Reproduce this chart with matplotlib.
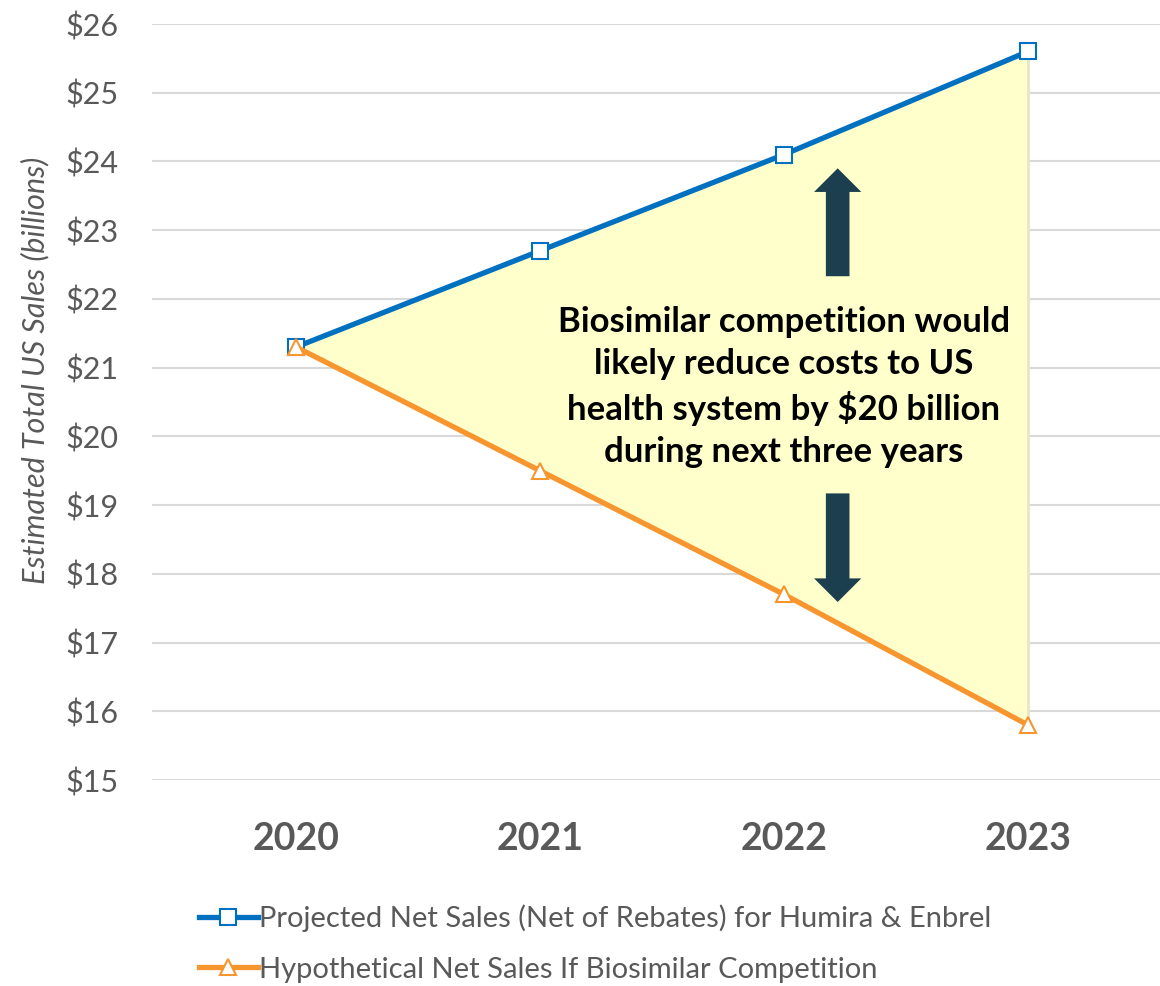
import matplotlib.pyplot as plt
import numpy as np

years = ['2020', '2021', '2022', '2023']
projected = [21.3, 22.7, 24.1, 25.6]
hypothetical = [21.3, 19.5, 17.7, 15.8]
y_ticks = [15, 16, 17, 18, 19, 20, 21, 22, 23, 24, 25, 26]

blue = '#0070C0'
orange = '#F7962F'
grey = '#595959'
arrow_col = '#1B3F4E'

plt.rcParams['font.family'] = ['Lato', 'DejaVu Sans']

fig = plt.figure(figsize=(11.6, 9.86), dpi=100)
ax = fig.add_axes([152/1160, 1 - 780/986, 1008/1160, 756/986])

x = np.arange(len(years))
ax.fill_between(x, hypothetical, projected, color='#FFFFCC', zorder=1)
ax.plot([x[-1], x[-1]], [hypothetical[-1], projected[-1]], color='#E6E6C8', lw=2, zorder=1)

ax.plot(x, projected, color=blue, lw=3.8, marker='s', ms=12, mfc='white', mec=blue, mew=1.5,
        label='Projected Net Sales (Net of Rebates) for Humira & Enbrel', zorder=3)
ax.plot(x, hypothetical, color=orange, lw=3.8, marker='^', ms=12, mfc='white', mec=orange, mew=1.5,
        label='Hypothetical Net Sales If Biosimilar Competition', zorder=4)

# arrows
ax.annotate('', xy=(2.22, 23.9), xytext=(2.22, 22.33),
            arrowprops=dict(facecolor=arrow_col, edgecolor='none', width=17, headwidth=34, headlength=17, shrink=0))
ax.annotate('', xy=(2.22, 17.59), xytext=(2.22, 19.17),
            arrowprops=dict(facecolor=arrow_col, edgecolor='none', width=17, headwidth=34, headlength=17, shrink=0))

ax.text(2.0, 20.72, 'Biosimilar competition would\nlikely reduce costs to US\nhealth system by $20 billion\nduring next three years',
        ha='center', va='center', fontsize=25, fontweight='bold', color='black', linespacing=1.38, zorder=5)

ax.set_xlim(-144/244, 864/244)
ax.set_ylim(15, 26)
ax.set_yticks(y_ticks)
ax.set_yticklabels(['$%d' % v for v in y_ticks])
ax.set_xticks(x)
ax.set_xticklabels(years, fontweight='bold')
ax.tick_params(axis='y', length=0, pad=24, labelsize=22, labelcolor=grey)
ax.tick_params(axis='x', length=0, pad=30, labelsize=27, labelcolor=grey)
ax.grid(axis='y', color='#D9D9D9', lw=1.5, zorder=0)
ax.set_axisbelow(True)
for s in ax.spines.values():
    s.set_visible(False)

fig.text(35/1160, 1 - 370/986, 'Estimated Total US Sales (billions)', rotation=90, style='italic',
         fontsize=22, color=grey, ha='center', va='center')

leg = fig.legend(loc='upper left', bbox_to_anchor=(173/1160, 1 - 878/986), frameon=False,
                 fontsize=21, handlelength=2.0, handletextpad=0.05, labelspacing=0.85)
for t in leg.get_texts():
    t.set_color(grey)

fig.savefig('out.png', dpi=100)
